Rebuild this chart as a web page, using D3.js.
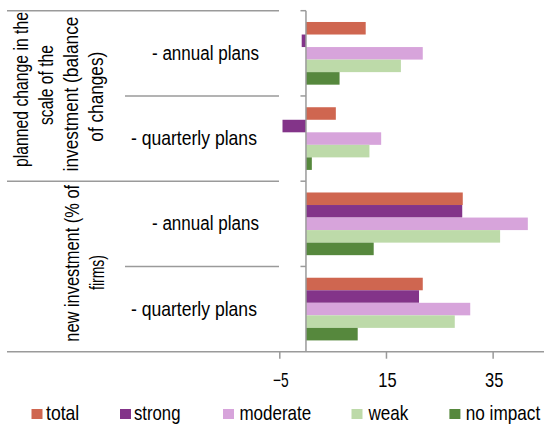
<!DOCTYPE html>
<html>
<head>
<meta charset="utf-8">
<script src="https://cdn.jsdelivr.net/npm/d3@7"></script>
<style>
  html, body { margin: 0; padding: 0; background: #fff; }
  svg { display: block; }
  text { font-family: "Liberation Sans", Arial, sans-serif; fill: #000; }
</style>
</head>
<body>
<div id="chart"></div>
<script>
// ---------- data ----------
const categories = ["planned-annual", "planned-quarterly", "new-annual", "new-quarterly"];
const subLabels = ["- annual plans", "- quarterly plans", "- annual plans", "- quarterly plans"];
const groupLabels = [
  ["planned change in the", "scale of the", "investment (balance", "of changes)"],
  ["new investment (% of", "firms)"]
];
const seriesNames = ["total", "strong", "moderate", "weak", "no impact"];
const total    = [11.2,  5.6, 29.4, 21.9];
const strong   = [-0.8, -4.4, 29.3, 21.2];
const moderate = [21.9, 14.1, 41.6, 30.8];
const weak     = [17.8, 11.9, 36.4, 27.9];
const noImpact = [ 6.3,  1.1, 12.7,  9.7];
const tickValues = [-5, 15, 35];

// ---------- styles / layout ----------
const colors = ["#CF6650", "#833489", "#D7A4DB", "#BDDAA9", "#56883D"];
const W = 544, H = 424;
const axisColor = "#9a9a9a";
const fontSize = 20;

const seriesValues = [total, strong, moderate, weak, noImpact];

const svg = d3.select("#chart").append("svg")
  .attr("width", W).attr("height", H);

// condensed text: shrink font so the run has the wanted length, then stretch
// back perpendicular to the run so glyph height stays at fontSize.
function condensed(parent, str, w, transformBase, anchor) {
  const t = parent.append("text")
    .attr("font-size", fontSize)
    .attr("text-anchor", anchor || "start")
    .text(str);
  const nat = t.node().getComputedTextLength();
  const fs = fontSize * w / nat;
  t.attr("font-size", fs)
   .attr("transform", `${transformBase} scale(1,${fontSize / fs})`);
  return t;
}

const x = d3.scaleLinear().domain([-5, 55]).range([279.3, 599.3]);
const y = d3.scaleBand().domain(categories).range([10.7, 351.7]).padding(0);
const ySub = d3.scaleBand().domain(seriesNames).range([0, y.bandwidth()])
  .paddingInner(0).paddingOuter(0.9);

// ---------- bars ----------
seriesNames.forEach((s, si) => {
  svg.append("g").selectAll("rect")
    .data(categories.map((c, ci) => ({ c, v: seriesValues[si][ci] })))
    .join("rect")
    .attr("x", d => x(Math.min(0, d.v)))
    .attr("width", d => Math.abs(x(d.v) - x(0)))
    .attr("y", d => y(d.c) + ySub(s))
    .attr("height", ySub.bandwidth())
    .attr("fill", colors[si]);
});

// ---------- value axis (vertical line at 0) ----------
const x0 = x(0);
svg.append("line")
  .attr("x1", x0).attr("x2", x0)
  .attr("y1", y.range()[0]).attr("y2", y.range()[1])
  .attr("stroke", axisColor).attr("stroke-width", 1.5);

// tick marks on category axis (left of the zero line)
const boundaries = categories.map(c => y(c));
svg.append("g").selectAll("line")
  .data(boundaries)
  .join("line")
  .attr("x1", x0 - 5.5).attr("x2", x0)
  .attr("y1", d => d).attr("y2", d => d)
  .attr("stroke", axisColor).attr("stroke-width", 1.5);

// ---------- bottom axis ----------
const axisG = svg.append("g")
  .attr("transform", `translate(0,${y.range()[1]})`)
  .call(d3.axisBottom(x).tickValues(tickValues).tickSize(7).tickSizeOuter(0).tickFormat(d3.format("d")));
axisG.select(".domain").remove();
axisG.selectAll(".tick line").attr("stroke", axisColor).attr("stroke-width", 1.5);
axisG.selectAll(".tick text").remove();
const tickWidths = { "-5": 15.7, "15": 18.3, "35": 18.3 };
axisG.selectAll(".tick").each(function(d) {
  condensed(d3.select(this), d3.format("d")(d), tickWidths[String(d)], "translate(1,35)", "middle");
});

// bottom line across whole width
svg.append("line")
  .attr("x1", 7).attr("x2", W)
  .attr("y1", y.range()[1]).attr("y2", y.range()[1])
  .attr("stroke", axisColor).attr("stroke-width", 1.5);

// ---------- multi-level category labels ----------
const labelRight = 279;
[y(categories[0]), y(categories[2])].forEach(yy => {
  svg.append("line").attr("x1", 7).attr("x2", labelRight)
    .attr("y1", yy).attr("y2", yy)
    .attr("stroke", axisColor).attr("stroke-width", 1.5);
});
[y(categories[1]), y(categories[3])].forEach(yy => {
  svg.append("line").attr("x1", 125).attr("x2", labelRight)
    .attr("y1", yy).attr("y2", yy)
    .attr("stroke", axisColor).attr("stroke-width", 1.5);
});

// sub labels
const subLayout = {
  "- annual plans": { x: 152, w: 107 },
  "- quarterly plans": { x: 131, w: 126 }
};
categories.forEach((c, i) => {
  const L = subLayout[subLabels[i]];
  condensed(svg, subLabels[i], L.w,
    `translate(${L.x},${y(c) + y.bandwidth() / 2 + 6.5})`, "start");
});

// rotated group labels
const groupLayout = [
  [ { bx: 28, cy: 89.5, w: 155 }, { bx: 53, cy: 85, w: 80 }, { bx: 78, cy: 94, w: 155 }, { bx: 103, cy: 96.7, w: 90 } ],
  [ { bx: 79, cy: 263.3, w: 157 }, { bx: 104, cy: 272.5, w: 35 } ]
];
groupLabels.forEach((lines, gi) => {
  lines.forEach((t, li) => {
    const L = groupLayout[gi][li];
    condensed(svg, t, L.w, `translate(${L.bx},${L.cy}) rotate(-90)`, "middle");
  });
});

// ---------- legend ----------
const legendLayout = [
  { sx: 31.5, tx: 46.0, w: 33.3 },
  { sx: 120.0, tx: 134.0, w: 46.5 },
  { sx: 223.0, tx: 239.4, w: 71.9 },
  { sx: 351.5, tx: 368.5, w: 39.9 },
  { sx: 449.4, tx: 465.7, w: 74.6 }
];
seriesNames.forEach((s, i) => {
  const L = legendLayout[i];
  svg.append("rect")
    .attr("x", L.sx).attr("y", 409)
    .attr("width", 11).attr("height", 10)
    .attr("fill", colors[i]);
  condensed(svg, s, L.w, `translate(${L.tx},420)`, "start");
});
</script>
</body>
</html>
